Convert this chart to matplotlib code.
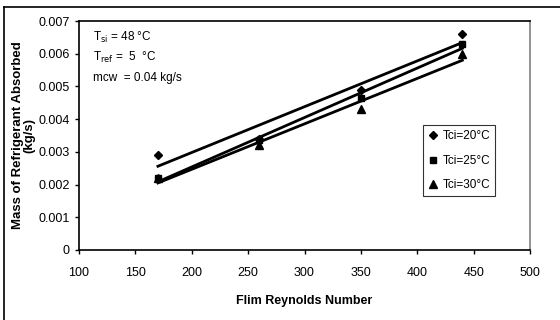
import numpy as np
import matplotlib.pyplot as plt
from matplotlib.lines import Line2D

plt.rcParams['font.family'] = ['Liberation Sans', 'DejaVu Sans']

# data
re_film = [170, 260, 350, 440]
tci_20 = [0.0029, 0.0034, 0.0049, 0.0066]
tci_25 = [0.0022, 0.00335, 0.00465, 0.0063]
tci_30 = [0.0022, 0.0032, 0.0043, 0.0060]
labels = ["Tci=20°C", "Tci=25°C", "Tci=30°C"]
markers = ["D", "s", "^"]
msizes = [4.5, 5, 6]

fig = plt.figure(figsize=(5.6, 3.2), dpi=100)
ax = fig.add_axes([79/560, 70/320, 451/560, 229/320])

x = np.array(re_film)
for y, lab, m, ms in zip([tci_20, tci_25, tci_30], labels, markers, msizes):
    ax.plot(x, y, linestyle='none', marker=m, color='black', markersize=ms, label=lab)
    # linear trendline like the spreadsheet one
    k, b = np.polyfit(x, y, 1)
    ax.plot(x[[0, -1]], k*x[[0, -1]] + b, color='black', lw=2)

ax.set_xlim(100, 500)
ax.set_ylim(0, 0.007)
ax.set_xticks(range(100, 501, 50))
ax.set_yticks(np.arange(0, 0.0071, 0.001))
ax.set_yticklabels(["0", "0.001", "0.002", "0.003", "0.004", "0.005", "0.006", "0.007"])
ax.tick_params(labelsize=9, direction='out', length=3, width=1)
ax.tick_params(axis='x', pad=9)
for s in ['left', 'bottom', 'top']:
    ax.spines[s].set_linewidth(1.2)
ax.spines['right'].set_color('#808080')
ax.spines['right'].set_linewidth(1.2)

ax.set_xlabel("Flim Reynolds Number", fontsize=9, fontweight='bold', labelpad=12)
ax.set_ylabel("Mass of Refrigerant Absorbed\n(kg/s)", fontsize=9.5, fontweight='bold',
              labelpad=2, linespacing=0.95)

ax.text(0.031, 0.926, "T$_{\\mathrm{si}}$ = 48 °C", transform=ax.transAxes, fontsize=8.5, va='center')
ax.text(0.031, 0.843, "T$_{\\mathrm{ref}}$ =  5  °C", transform=ax.transAxes, fontsize=8.5, va='center')
ax.text(0.031, 0.751, "mcw  = 0.04 kg/s", transform=ax.transAxes, fontsize=8.5, va='center')

leg = ax.legend(loc='upper left', bbox_to_anchor=(344/451, (250-125)/229), fontsize=8.5,
                frameon=True, fancybox=False, edgecolor='black', handlelength=0.8,
                handletextpad=0.4, borderpad=0.45, labelspacing=1.05, borderaxespad=0)
leg.get_frame().set_linewidth(0.8)

# outer chart border
fig.add_artist(Line2D([4/560, 4/560], [0, 313/320], color='black', lw=1.2, transform=fig.transFigure))
fig.add_artist(Line2D([4/560, 1], [313/320, 313/320], color='black', lw=1.2, transform=fig.transFigure))

fig.savefig("out.png", dpi=100)
